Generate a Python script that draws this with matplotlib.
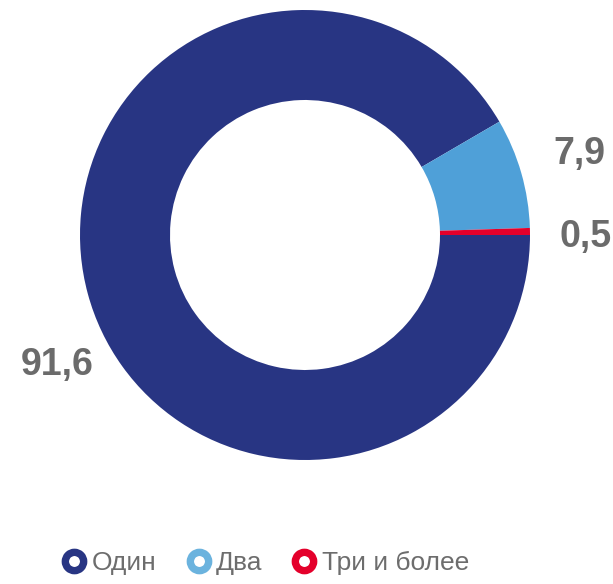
import matplotlib.pyplot as plt
from matplotlib.lines import Line2D

plt.rcParams['font.family'] = ['Liberation Sans', 'DejaVu Sans']

# data
categories = ['Один', 'Два', 'Три и более']
shares = [91.6, 7.9, 0.5]
share_labels = ['91,6', '7,9', '0,5']
colors = ['#283583', '#4FA0D8', '#E4002B']
legend_colors = ['#283583', '#6BB3DE', '#E4002B']

fig = plt.figure(figsize=(6.13, 5.84), dpi=100)
ax = fig.add_axes([0, 0, 1, 1])

# pixel-like coordinates, y measured from bottom
cx, cy, r = 305, 584 - 235, 225
ax.pie(shares, colors=colors, startangle=0, counterclock=False,
       center=(cx, cy), radius=r, frame=True,
       wedgeprops=dict(width=r * 0.4, linewidth=0))
ax.set_xlim(0, 613)
ax.set_ylim(0, 584)
ax.set_aspect('equal')
ax.axis('off')

label_pos = [(57, 584 - 365), (579, 584 - 154), (586, 584 - 237)]
for txt, (x, y) in zip(share_labels, label_pos):
    ax.text(x, y, txt, ha='center', va='center', fontsize=27,
            fontweight='bold', color='#6b6b6b')

# ring-shaped legend markers
handles = [Line2D([], [], linestyle='none', marker='o', markersize=13.2,
                  markerfacecolor='white', markeredgecolor=c,
                  markeredgewidth=5.3) for c in legend_colors]
leg = fig.legend(handles, categories, loc='center', ncol=3,
                 bbox_to_anchor=(265 / 613, 1 - 563 / 584), frameon=False,
                 fontsize=19, handletextpad=0.15, columnspacing=1.1,
                 handlelength=1.0, labelcolor='#6d6d6d')

fig.savefig('out.png', dpi=100)
